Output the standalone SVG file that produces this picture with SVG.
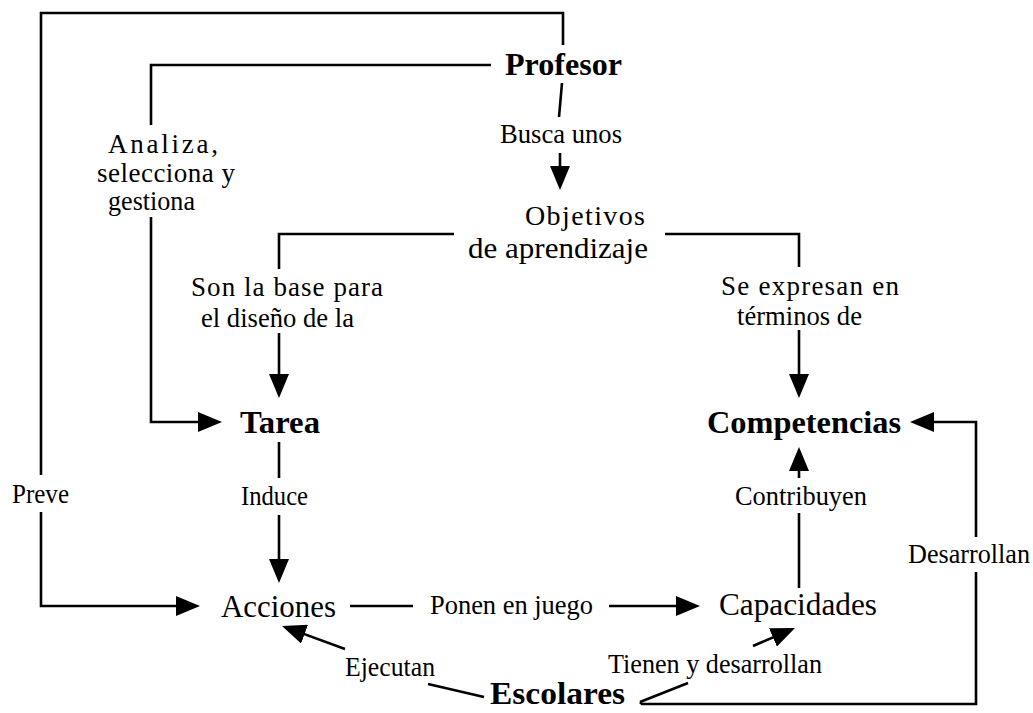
<svg xmlns="http://www.w3.org/2000/svg" width="1033" height="713" viewBox="0 0 1033 713">
<defs>
<style>
.ln{fill:none;stroke:#000;stroke-width:2.6;stroke-linecap:butt;stroke-linejoin:miter}
.ar{marker-end:url(#ah)}
text{font-family:"Liberation Serif","Times New Roman",serif;fill:#000}
.nb{font-size:32px;font-weight:bold}
.nr{font-size:32px}
.lb{font-size:27px}
</style>
<marker id="ah" viewBox="0 0 24 20" markerWidth="24" markerHeight="20" markerUnits="userSpaceOnUse" refX="14" refY="10" orient="auto">
<path d="M0,0 L24,10 L0,20 z" fill="#000"/>
</marker>
</defs>
<rect width="1033" height="713" fill="#fff"/>
<g id="connectors">
<path class="ln" d="M563,45 V13 H41 V475"/>
<path class="ln ar" d="M41,512 V606 H190"/>
<path class="ln" d="M491,65 H151 V125"/>
<path class="ln ar" d="M151,217 V422 H212"/>
<path class="ln" d="M562,83 L559,117"/>
<path class="ln ar" d="M560,153 V180"/>
<path class="ln" d="M454,234 H279 V269"/>
<path class="ln ar" d="M279,333 V388"/>
<path class="ln" d="M665,234 H799 V267"/>
<path class="ln ar" d="M799,330 V388"/>
<path class="ln" d="M279,442 V478"/>
<path class="ln ar" d="M279,515 V573"/>
<path class="ln" d="M350,606 H413"/>
<path class="ln ar" d="M609,606 H690"/>
<path class="ln" d="M799,588 V513"/>
<path class="ln ar" d="M799,478 V457"/>
<path class="ln" d="M640,702 L642,704 H976 V572"/>
<path class="ln ar" d="M976,537 V422 H920"/>
<path class="ln" d="M484,697 L428,684"/>
<path class="ln ar" d="M345,649 L291.4,629.4"/>
<path class="ln" d="M640,702 L688,683"/>
<path class="ln ar" d="M753,646 L785.8,631.9"/>
</g>
<g id="labels">
<text class="lb" x="500" y="143" textLength="122" lengthAdjust="spacingAndGlyphs">Busca unos</text>
<text class="lb" x="108" y="153" textLength="110">Analiza,</text>
<text class="lb" x="97" y="182" textLength="138">selecciona y</text>
<text class="lb" x="108" y="210" textLength="87" lengthAdjust="spacingAndGlyphs">gestiona</text>
<text class="lb" x="191" y="296" textLength="192">Son la base para</text>
<text class="lb" x="201" y="327" textLength="153" lengthAdjust="spacingAndGlyphs">el diseño de la</text>
<text class="lb" x="721" y="295" textLength="178">Se expresan en</text>
<text class="lb" x="737" y="325" textLength="125" lengthAdjust="spacingAndGlyphs">términos de</text>
<text class="lb" x="12" y="503" textLength="57" lengthAdjust="spacingAndGlyphs">Preve</text>
<text class="lb" x="241" y="505" textLength="67" lengthAdjust="spacingAndGlyphs">Induce</text>
<text class="lb" x="735" y="505" textLength="132" lengthAdjust="spacingAndGlyphs">Contribuyen</text>
<text class="lb" x="908" y="563" textLength="122" lengthAdjust="spacingAndGlyphs">Desarrollan</text>
<text class="lb" x="430" y="614" textLength="163" lengthAdjust="spacingAndGlyphs">Ponen en juego</text>
<text class="lb" x="345" y="676" textLength="90" lengthAdjust="spacingAndGlyphs">Ejecutan</text>
<text class="lb" x="608" y="673" textLength="214" lengthAdjust="spacingAndGlyphs">Tienen y desarrollan</text>
</g>
<g id="profesor"><text class="nb" x="505" y="75" textLength="117" lengthAdjust="spacingAndGlyphs">Profesor</text></g>
<g id="objetivos"><text class="lb" x="525" y="225" style="font-size:28px" textLength="120">Objetivos</text><text class="nr" x="468" y="258" style="font-size:30px" textLength="180" lengthAdjust="spacingAndGlyphs">de aprendizaje</text></g>
<g id="tarea"><text class="nb" x="240" y="433" textLength="80" lengthAdjust="spacingAndGlyphs">Tarea</text></g>
<g id="competencias"><text class="nb" x="707" y="433" textLength="194" lengthAdjust="spacingAndGlyphs">Competencias</text></g>
<g id="acciones"><text class="nr" x="221" y="617" textLength="115" lengthAdjust="spacingAndGlyphs">Acciones</text></g>
<g id="capacidades"><text class="nr" x="719" y="615" textLength="158" lengthAdjust="spacingAndGlyphs">Capacidades</text></g>
<g id="escolares"><text class="nb" x="490" y="704" textLength="135" lengthAdjust="spacingAndGlyphs">Escolares</text></g>
</svg>
